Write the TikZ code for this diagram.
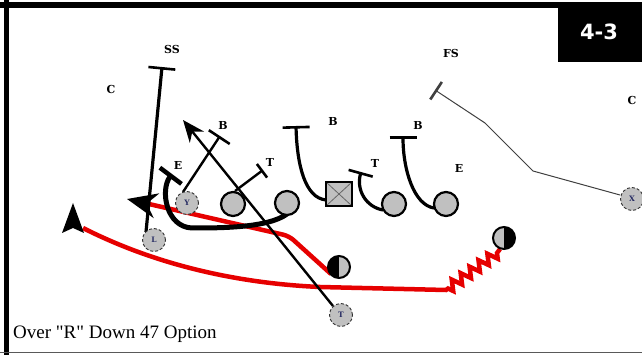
\documentclass[tikz,border=0pt]{standalone}
\usepackage{fontspec}
\setmainfont{Liberation Serif}[Ligatures=TeXOff]
\newfontfamily\lblfont{DejaVu Serif}
\newfontfamily\boxfont{DejaVu Sans}
\usetikzlibrary{arrows.meta,decorations.pathmorphing}
\definecolor{pgray}{RGB}{192,192,192}
\definecolor{pred}{RGB}{230,0,0}
\definecolor{pnavy}{RGB}{40,45,100}
\begin{document}
\begin{tikzpicture}[x=1pt,y=-1pt,
  lbl/.style={font=\lblfont\bfseries\fontsize{11}{11}\selectfont, inner sep=0pt},
  ol/.style={circle, fill=pgray, draw=black, line width=2.2pt, minimum size=24pt, inner sep=0pt},
  sk/.style={circle, fill=pgray, draw=black!80, line width=0.9pt, densely dashed, minimum size=23pt, inner sep=0pt, text=pnavy, font=\lblfont\bfseries\fontsize{7.5}{7.5}\selectfont},
  halfl/.style={circle, fill=pgray, draw=black, line width=2pt, minimum size=22pt, inner sep=0pt,
    path picture={\fill[black] (path picture bounding box.north) rectangle (path picture bounding box.south west);}},
  halfr/.style={circle, fill=pgray, draw=black, line width=2pt, minimum size=22pt, inner sep=0pt,
    path picture={\fill[black] (path picture bounding box.north) rectangle (path picture bounding box.south east);}},
  ctr/.style={rectangle, fill=pgray, draw=black, line width=2.2pt, minimum width=26pt, minimum height=24pt, inner sep=0pt,
    path picture={\draw[black!60, line width=0.8pt] (path picture bounding box.north west) -- (path picture bounding box.south east) (path picture bounding box.north east) -- (path picture bounding box.south west);}},
  blkthin/.style={draw=black, line width=2.4pt},
  blkmid/.style={draw=black, line width=3.2pt},
  blkthick/.style={draw=black, line width=5pt, line cap=round},
  redl/.style={draw=pred, line width=4.5pt},
  barend/.style={-{Bar[width=#1, line width=2.6pt]}}
]
\useasboundingbox (0,0) rectangle (642,355);
% frame
\fill[white] (0,0) rectangle (642,355);
\draw[line width=6pt] (0,5) -- (642,5);
\draw[line width=5pt] (6.5,0) -- (6.5,355);
\draw[black!65, line width=1.6pt] (0,352.5) -- (642,352.5);
\fill[black] (558,5) rectangle (642,62);
\node[text=white, font=\boxfont\bfseries\fontsize{21}{21}\selectfont, inner sep=0pt] (title) at (599,32) {4-3};

% labels
\node[lbl] (ss) at (172,49) {SS};
\node[lbl] (cl) at (111,89) {C};
\node[lbl] (fs) at (451,53) {FS};
\node[lbl] (cr) at (632,100) {C};
\node[lbl] (b1) at (223,125) {B};
\node[lbl] (e1) at (178,165) {E};
\node[lbl] (t1) at (270,162) {T};
\node[lbl] (b2) at (333,121) {B};
\node[lbl] (b3) at (418,125) {B};
\node[lbl] (t2) at (375,163) {T};
\node[lbl] (e2) at (459,168) {E};

% block / route end points
\coordinate (ssb) at (162,67);
\coordinate (yb) at (220,136);
\coordinate (ltb) at (263,170);
\coordinate (eb) at (172,174);
\coordinate (cb) at (296,126);
\coordinate (rgb) at (361,172);
\coordinate (rtb) at (403,136);
\coordinate (fsb) at (435,90);
\coordinate (tarr) at (183,120);
\coordinate (qbend) at (127,199);
\coordinate (tipA) at (73,203);

% red routes (under the players)
\draw[redl, rounded corners=6pt, -{Stealth[length=30pt,width=25pt,color=black]}]
  (331,274) -- (289,236) -- (qbend);
\draw[redl] (500,249) -- (497,253)
  decorate[decoration={zigzag, segment length=11pt, amplitude=5pt}] { -- (446,290) }
  -- (320,287) .. controls (230,283) and (150,262) .. (83,228);
\fill[black] (tipA) -- (62,233) -- (73,228) -- (84,233) -- cycle;

% black routes
\draw[blkmid, barend=27pt] (146,232) -- (ssb);
\draw[blkthin, -{Stealth[length=22pt,width=18pt]}] (333,306) -- (tarr);
\draw[blkthin, barend=25pt] (183,192) -- (yb);
\draw[blkthin, barend=17pt] (235,191) -- (ltb);
\draw[blkthick, -{Bar[width=27pt, line width=4.5pt]}] (287,214) .. controls (268,228) and (220,228) .. (192,228)
  .. controls (166,227) and (160,190) .. (eb);
\draw[blkmid, barend=27pt] (326,200) .. controls (305,198) and (297,165) .. (cb);
\draw[blkmid, barend=25pt] (383,210) .. controls (366,207) and (356,190) .. (rgb);
\draw[blkmid, barend=27pt] (434,208) .. controls (414,205) and (403,170) .. (rtb);
\draw[black!75, line width=1pt, barend=21pt] (620,195) -- (533,171) -- (485,123) -- (fsb);

% players
\node[sk] (Y) at (187,203) {Y};
\node[ol] (lt) at (233,204) {};
\node[ol] (lg) at (287,203) {};
\node[ctr] (c) at (339,194) {};
\node[ol] (rg) at (394,204) {};
\node[ol] (rt) at (446,204) {};
\node[sk] (L) at (154,240) {L};
\node[sk] (X) at (632,199) {X};
\node[sk] (T) at (341,315) {T};
\node[halfl] (qb) at (339,267) {};
\node[halfr] (hb) at (504,238) {};

% caption
\node[anchor=base west, inner sep=0pt, font=\fontsize{19}{19}\selectfont] (cap) at (13,338) {Over "R" Down 47 Option};
\end{tikzpicture}
\end{document}
